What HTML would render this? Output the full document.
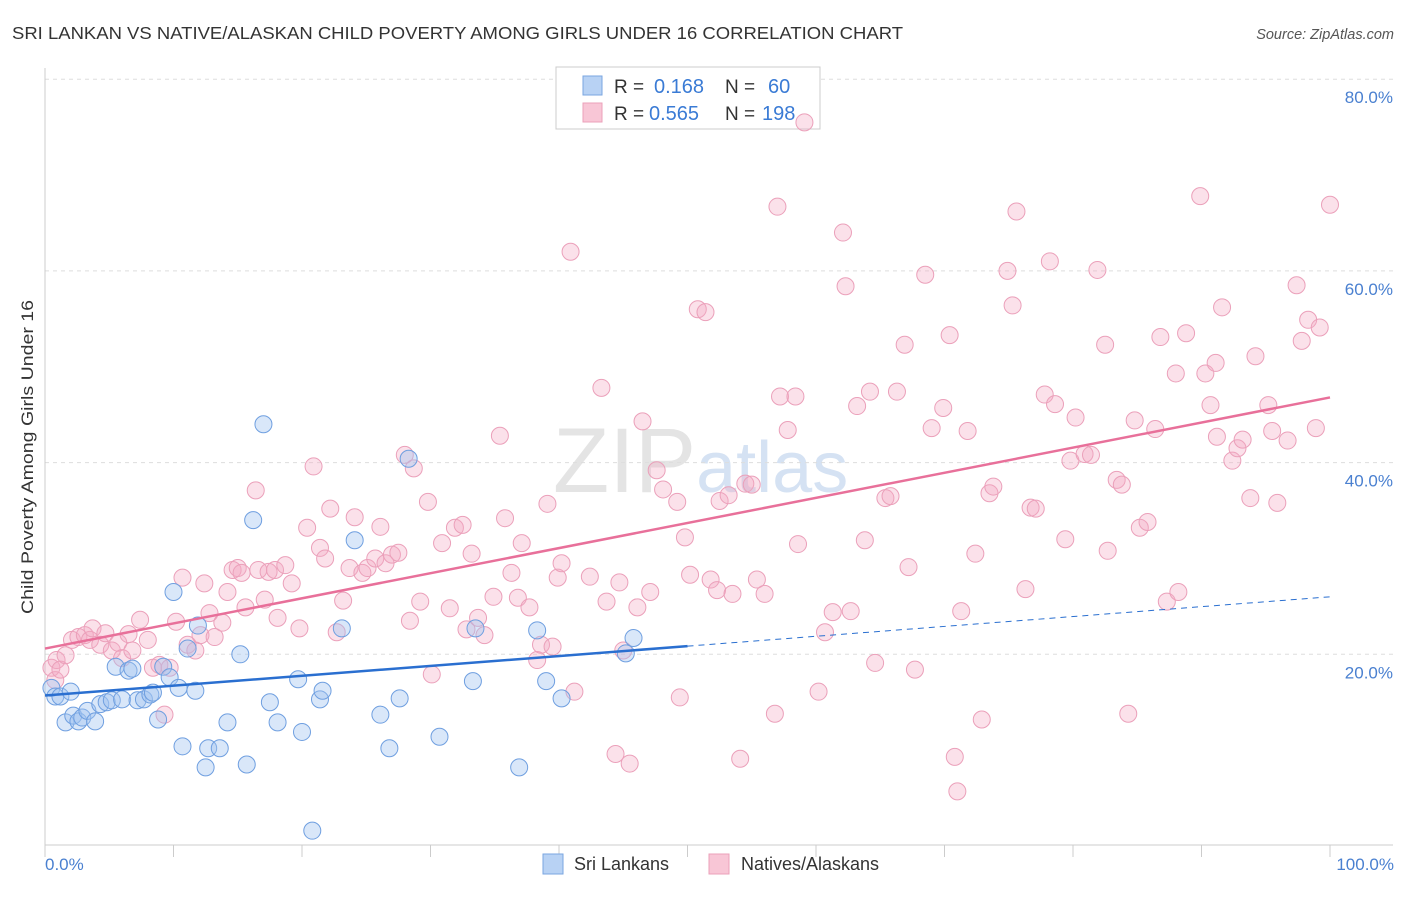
<!DOCTYPE html>
<html><head><meta charset="utf-8"><style>
body{margin:0;background:#fff;font-family:"Liberation Sans",sans-serif;}
svg text{font-family:"Liberation Sans",sans-serif;}
</style></head><body>
<svg id="chart" width="1406" height="892" xmlns="http://www.w3.org/2000/svg">
<text x="12" y="39" font-size="17.5" fill="#333" textLength="891" lengthAdjust="spacingAndGlyphs">SRI LANKAN VS NATIVE/ALASKAN CHILD POVERTY AMONG GIRLS UNDER 16 CORRELATION CHART</text>
<text x="1394" y="39" font-size="14.5" fill="#555" text-anchor="end" font-style="italic">Source: ZipAtlas.com</text>
<text x="553" y="492" font-size="92" fill="#e4e4e4" font-family="Liberation Serif">ZIP<tspan fill="#d5e2f3" font-family="Liberation Sans" font-size="72">atlas</tspan></text>
<g id="grid"></g>
<line x1="45" y1="68" x2="45" y2="845" stroke="#ccc"/>
<line x1="45" y1="845" x2="1393" y2="845" stroke="#ccc"/>
<g id="xticks"></g>
<text transform="translate(33,457) rotate(-90)" font-size="17" fill="#333" text-anchor="middle" textLength="314" lengthAdjust="spacingAndGlyphs">Child Poverty Among Girls Under 16</text>
<text x="45" y="870" font-size="17" fill="#4a80d0">0.0%</text>
<text x="1394" y="870" font-size="17" fill="#4a80d0" text-anchor="end">100.0%</text>
<g>
<rect x="556" y="67" width="264" height="62" fill="#fff" stroke="#ccc"/>
<rect x="583" y="76" width="19" height="19" fill="#b8d2f4" stroke="#7aa6e0"/>
<rect x="583" y="103" width="19" height="19" fill="#f8c6d6" stroke="#eba0ba"/>
<text x="614" y="93" font-size="19" fill="#333">R =</text>
<text x="654" y="93" font-size="20" fill="#3a7bd5">0.168</text>
<text x="725" y="93" font-size="19" fill="#333">N =</text>
<text x="768" y="93" font-size="20" fill="#3a7bd5">60</text>
<text x="614" y="120" font-size="19" fill="#333">R =</text>
<text x="649" y="120" font-size="20" fill="#3a7bd5">0.565</text>
<text x="725" y="120" font-size="19" fill="#333">N =</text>
<text x="762" y="120" font-size="20" fill="#3a7bd5">198</text>
</g>
<g id="pts"></g>
<g id="trends"></g>
<g>
<rect x="543" y="854" width="20" height="20" fill="#b8d2f4" stroke="#7aa6e0"/>
<text x="574" y="870" font-size="18" fill="#333">Sri Lankans</text></g>
<g>
<rect x="709" y="854" width="20" height="20" fill="#f8c6d6" stroke="#eba0ba"/>
<text x="741" y="870" font-size="18" fill="#333">Natives/Alaskans</text></g>
</svg>
<script>
const yTicks=[20,40,60,80];
const xTickVals=[0,10,20,30,40,50,60,70,80,90,100];
const blueX=[0.5,0.8,1.2,1.6,2,2.2,2.6,2.9,3.3,3.9,4.3,4.8,5.2,5.5,6,6.5,6.8,7.2,7.7,8.2,8.4,8.8,9.2,9.7,10,10.4,10.7,11.1,11.7,11.9,12.5,12.7,13.6,14.2,15.2,15.7,16.2,17,17.5,18.1,19.7,20,20.8,21.4,21.6,23.1,24.1,26.1,26.8,27.6,28.3,30.7,33.3,33.5,36.9,38.3,39,40.2,45.2,45.8];
const blueY=[16.5,15.6,15.6,12.9,16.1,13.6,13,13.4,14.1,13,14.8,15,15.2,18.7,15.3,18.3,18.5,15.2,15.3,15.8,16,13.2,18.7,17.6,26.5,16.5,10.4,20.6,16.2,23,8.2,10.2,10.2,12.9,20,8.5,34,44,15.0,12.9,17.4,11.9,1.6,15.3,16.2,22.7,31.9,13.7,10.2,15.4,40.4,11.4,17.2,22.7,8.2,22.5,17.2,15.4,20.1,21.7];
const pinkX=[
0.5,0.8,0.9,1.2,1.6,2.1,2.6,3.1,3.5,3.7,
4.3,4.7,5.2,5.7,6.0,6.5,6.8,7.4,8.0,8.4,
8.9,9.3,9.7,10.2,10.7,11.1,11.7,12.1,12.4,12.8,
13.2,13.8,14.2,14.6,15.0,15.3,15.6,16.4,16.6,17.1,
17.4,17.9,18.1,18.7,19.2,19.8,20.4,20.9,21.4,21.8,
22.2,22.7,23.2,23.7,24.1,24.7,25.1,25.7,26.1,26.5,
27.0,27.5,28.0,28.4,28.7,29.2,29.8,30.1,30.9,31.5,
31.9,32.5,32.8,33.2,33.7,34.2,34.9,35.4,35.8,36.3,
36.8,37.1,37.7,38.3,38.6,39.1,39.5,39.9,40.2,40.9,
41.2,42.4,43.3,43.7,44.4,44.7,45.0,45.5,46.1,46.5,
47.1,47.6,48.1,49.2,49.4,49.8,50.2,50.8,51.4,51.8,
52.3,52.5,53.2,53.5,54.1,54.5,55.0,55.4,56.0,56.8,
57.0,57.2,57.8,58.4,58.6,60.2,60.7,61.3,62.1,62.3,
62.7,63.2,63.8,64.2,64.6,65.4,65.8,66.3,66.9,67.2,
67.7,68.5,69.0,69.9,70.4,70.8,71.0,71.3,71.8,72.4,
72.9,73.5,73.8,74.9,75.3,75.6,76.3,76.7,77.1,77.8,
78.2,78.6,79.4,79.8,80.2,80.9,81.4,81.9,82.5,82.7,
83.4,83.8,84.3,84.8,85.2,85.8,86.4,86.8,87.3,88.0,
88.2,88.8,89.9,90.3,90.7,91.1,91.2,91.6,92.4,92.8,
93.2,93.8,94.2,95.2,95.5,95.9,96.7,97.4,97.8,98.3,
99.2,98.9,100,59.1];
const pinkY=[
18.6,17.3,19.4,18.4,19.9,21.5,21.8,22.0,21.5,22.7,
21.0,22.2,20.4,21.2,19.6,22.1,20.4,23.6,21.5,18.6,
18.9,13.7,18.6,23.4,28.0,21.0,20.4,22.0,27.4,24.3,
21.8,23.3,26.5,28.8,29.0,28.5,24.9,37.1,28.8,25.7,
28.6,28.8,23.8,29.3,27.4,22.7,33.2,39.6,31.1,30.0,
35.2,22.3,25.6,29.0,34.3,28.5,29.0,30.0,33.3,29.5,
30.4,30.6,40.8,23.5,39.4,25.5,35.9,17.9,31.6,24.8,
33.2,33.5,22.6,30.5,23.8,22.0,26.0,42.8,34.2,28.5,
25.9,31.6,24.9,19.4,21.0,35.7,20.8,28.0,29.5,62.0,
16.1,28.1,47.8,25.5,9.6,27.5,20.4,8.6,24.9,44.3,
26.5,39.2,37.2,35.9,15.5,32.2,28.3,56.0,55.7,27.8,
26.7,36.0,36.6,26.3,9.1,37.8,37.7,27.8,26.3,13.8,
66.7,46.9,43.4,46.9,31.5,16.1,22.3,24.4,64.0,58.4,
24.5,45.9,31.9,47.4,19.1,36.3,36.5,47.4,52.3,29.1,
18.4,59.6,43.6,45.7,53.3,9.3,5.7,24.5,43.3,30.5,
13.2,36.8,37.5,60.0,56.4,66.2,26.8,35.3,35.2,47.1,
61.0,46.1,32.0,40.2,44.7,40.9,40.8,60.1,52.3,30.8,
38.2,37.7,13.8,44.4,33.2,33.8,43.5,53.1,25.5,49.3,
26.5,53.5,67.8,49.3,46.0,50.4,42.7,56.2,40.2,41.5,
42.4,36.3,51.1,46.0,43.3,35.8,42.3,58.5,52.7,54.9,
54.1,43.6,66.9,75.5];
const blueTrend=[15.7,26.0];
const pinkTrend=[20.6,46.8];
const blueSolidEnd=50;

const ns="http://www.w3.org/2000/svg";
const X0=45,X1=1330,Y0=846,YPER=9.585;
const sx=v=>X0+(X1-X0)*v/100;
const sy=v=>Y0-v*YPER;
function mk(tag,attrs,parent){const e=document.createElementNS(ns,tag);for(const k in attrs)e.setAttribute(k,attrs[k]);parent.appendChild(e);return e;}
const grid=document.getElementById('grid');
yTicks.forEach(t=>{
  const l=mk('line',{x1:45,x2:1393,y1:sy(t),y2:sy(t),stroke:'#ddd','stroke-dasharray':'4,4'},grid);
  
  
  const tx=mk('text',{x:1393,y:sy(t)+24,'font-size':17,fill:'#4a80d0','text-anchor':'end'},grid);
  tx.textContent=t.toFixed(1)+'%';
  
  
});
const xt=document.getElementById('xticks');
xTickVals.forEach(t=>{
  const l=mk('line',{x1:sx(t),x2:sx(t),y1:845,y2:857,stroke:'#ccc'},xt);
  
  
});
const pts=document.getElementById('pts');
pinkX.forEach((x,i)=>{
  const c=mk('circle',{cx:sx(x),cy:sy(pinkY[i]),r:8.5,fill:'rgba(244,170,196,0.35)',stroke:'#eba0ba','stroke-width':1},pts);
  
  
});
blueX.forEach((x,i)=>{
  const c=mk('circle',{cx:sx(x),cy:sy(blueY[i]),r:8.5,fill:'rgba(160,196,240,0.4)',stroke:'#6f9fe0','stroke-width':1},pts);
  
  
});
const tr=document.getElementById('trends');
const by=x=>blueTrend[0]+(blueTrend[1]-blueTrend[0])*x/100;
const bl=mk('line',{x1:sx(0),y1:sy(by(0)),x2:sx(blueSolidEnd),y2:sy(by(blueSolidEnd)),stroke:'#2a6fd0','stroke-width':2.5},tr);


const bd=mk('line',{x1:sx(blueSolidEnd),y1:sy(by(blueSolidEnd)),x2:sx(100),y2:sy(by(100)),stroke:'#2a6fd0','stroke-width':1,'stroke-dasharray':'6,5'},tr);


const pl=mk('line',{x1:sx(0),y1:sy(pinkTrend[0]),x2:sx(100),y2:sy(pinkTrend[1]),stroke:'#e8709a','stroke-width':2.5},tr);


</script>
</body></html>
